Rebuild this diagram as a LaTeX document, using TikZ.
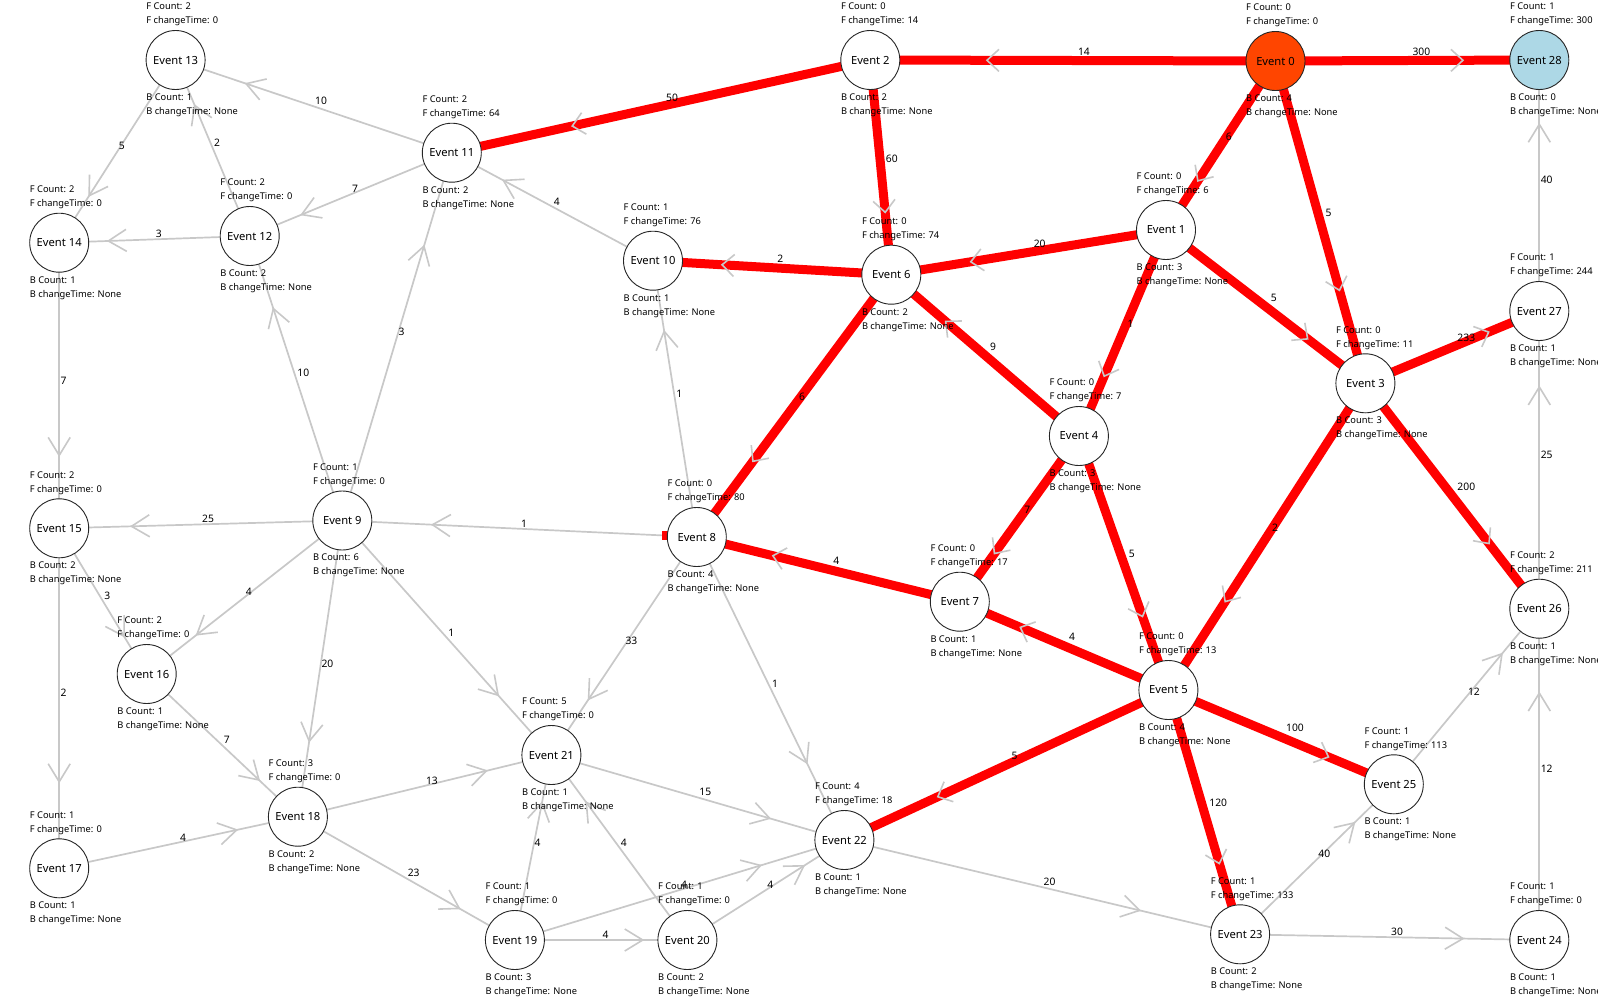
\documentclass[tikz,border=0pt]{standalone}
\usepackage{fontspec}
\setmainfont{Noto Sans}
\usetikzlibrary{arrows.meta,calc,decorations.markings}
\definecolor{linkgray}{HTML}{C8C8C8}
\definecolor{hotred}{HTML}{FF0000}
\definecolor{startfill}{HTML}{FF4500}
\definecolor{endfill}{HTML}{ADD8E6}
\pgfdeclarelayer{bg}
\pgfdeclarelayer{links}
\pgfsetlayers{bg,links,main}
\tikzset{event/.style={draw=black!85,line width=0.9pt,circle,minimum size=59pt,inner sep=0pt,font=\fontsize{11.2}{13}\selectfont}}
\tikzset{info/.style={inner sep=0pt,align=left,font=\fontsize{9.3}{14}\selectfont}}
\tikzset{weight/.style={anchor=south west,inner sep=0.6pt,font=\fontsize{10.3}{12}\selectfont}}
\tikzset{link/.style={draw=linkgray,line width=1.7pt,postaction={decorate},
    decoration={markings,mark=at position 0.75 with {\arrow[linkgray,line width=1.6pt]{Straight Barb[length=18pt,width=22pt,line width=1.6pt]}}}}}
\tikzset{hotlink/.style={draw=hotred,line width=9pt,postaction={decorate},
    decoration={markings,mark=at position 0.715 with {\arrow[linkgray,line width=1.6pt]{Straight Barb[length=12pt,width=22pt,line width=1.6pt]}}}}}
\newcommand{\eventnode}[8][white]{%
    \node [event,fill=#1] (#2) at (#3) {#4};
    \node [info,anchor=south west] (#2f) at ($(#2.center)+(-29.5,-33.8)$) {F Count: #5\\F changeTime: #6};
    \node [info,anchor=north west] (#2b) at ($(#2.center)+(-29.5,33.4)$) {B Count: #7\\B changeTime: #8};
}

\begin{document}
\begin{tikzpicture}[x=1pt,y=-1pt]
    \begin{pgfonlayer}{bg}
        \fill [white] (0,0) rectangle (1598,999);
    \end{pgfonlayer}
    \useasboundingbox (0,0) rectangle (1598,999);
    % events
    \eventnode[startfill]{e0}{1275.5,61}{Event 0}{0}{0}{4}{None}
    \eventnode{e1}{1166,230}{Event 1}{0}{6}{3}{None}
    \eventnode{e2}{870.3,60}{Event 2}{0}{14}{2}{None}
    \eventnode{e3}{1365.4,383.3}{Event 3}{0}{11}{3}{None}
    \eventnode{e4}{1078.9,436}{Event 4}{0}{7}{3}{None}
    \eventnode{e5}{1168.4,690}{Event 5}{0}{13}{4}{None}
    \eventnode{e6}{891.3,274.7}{Event 6}{0}{74}{2}{None}
    \eventnode{e7}{959.8,601.7}{Event 7}{0}{17}{1}{None}
    \eventnode{e8}{696.8,537}{Event 8}{0}{80}{4}{None}
    \eventnode{e9}{342.3,520.5}{Event 9}{1}{0}{6}{None}
    \eventnode{e10}{653,260.7}{Event 10}{1}{76}{1}{None}
    \eventnode{e11}{451.8,152.7}{Event 11}{2}{64}{2}{None}
    \eventnode{e12}{249.7,236}{Event 12}{2}{0}{2}{None}
    \eventnode{e13}{175.6,60}{Event 13}{2}{0}{1}{None}
    \eventnode{e14}{59.2,242.7}{Event 14}{2}{0}{1}{None}
    \eventnode{e15}{59.2,528.3}{Event 15}{2}{0}{2}{None}
    \eventnode{e16}{146.7,674}{Event 16}{2}{0}{1}{None}
    \eventnode{e17}{59.2,868.3}{Event 17}{1}{0}{1}{None}
    \eventnode{e18}{297.9,816.7}{Event 18}{3}{0}{2}{None}
    \eventnode{e19}{514.9,940}{Event 19}{1}{0}{3}{None}
    \eventnode{e20}{687.4,940}{Event 20}{1}{0}{2}{None}
    \eventnode{e21}{551.4,755}{Event 21}{5}{0}{1}{None}
    \eventnode{e22}{844.4,840}{Event 22}{4}{18}{1}{None}
    \eventnode{e23}{1240.1,934.3}{Event 23}{1}{133}{2}{None}
    \eventnode{e24}{1539.3,940}{Event 24}{1}{0}{1}{None}
    \eventnode{e25}{1393.8,784.3}{Event 25}{1}{113}{1}{None}
    \eventnode{e26}{1539.3,608.7}{Event 26}{2}{211}{1}{None}
    \eventnode{e27}{1539.3,311}{Event 27}{1}{244}{1}{None}
    \eventnode[endfill]{e28}{1539.3,60}{Event 28}{1}{300}{0}{None}
    % connectors
    \begin{pgfonlayer}{links}
        \draw [link] (e11.center) -- node [weight] {10} (e13.center);
        \draw [link] (e13.center) -- node [weight] {5} (e14.center);
        \draw [link] (e12.center) -- node [weight] {2} (e13.center);
        \draw [link] (e11.center) -- node [weight] {7} (e12.center);
        \draw [link] (e12.center) -- node [weight] {3} (e14.center);
        \draw [link] (e10.center) -- node [weight] {4} (e11.center);
        \draw [link] (e9.center) -- node [weight] {3} (e11.center);
        \draw [link] (e9.center) -- node [weight] {10} (e12.center);
        \draw [link] (e14.center) -- node [weight] {7} (e15.center);
        \draw [link] (e9.center) -- node [weight] {25} (e15.center);
        \draw [link] (e8.center) -- node [weight] {1} (e9.center);
        \draw [link] (e8.center) -- node [weight] {1} (e10.center);
        \draw [link] (e15.center) -- node [weight] {3} (e16.center);
        \draw [link] (e9.center) -- node [weight] {4} (e16.center);
        \draw [link] (e9.center) -- node [weight] {20} (e18.center);
        \draw [link] (e9.center) -- node [weight] {1} (e21.center);
        \draw [link] (e15.center) -- node [weight] {2} (e17.center);
        \draw [link] (e16.center) -- node [weight] {7} (e18.center);
        \draw [link] (e17.center) -- node [weight] {4} (e18.center);
        \draw [link] (e18.center) -- node [weight] {13} (e21.center);
        \draw [link] (e18.center) -- node [weight] {23} (e19.center);
        \draw [link] (e8.center) -- node [weight] {33} (e21.center);
        \draw [link] (e8.center) -- node [weight] {1} (e22.center);
        \draw [link] (e21.center) -- node [weight] {15} (e22.center);
        \draw [link] (e19.center) -- node [weight] {4} (e21.center);
        \draw [link] (e20.center) -- node [weight] {4} (e21.center);
        \draw [link] (e19.center) -- node [weight] {4} (e22.center);
        \draw [link] (e19.center) -- node [weight] {4} (e20.center);
        \draw [link] (e20.center) -- node [weight] {4} (e22.center);
        \draw [link] (e22.center) -- node [weight] {20} (e23.center);
        \draw [link] (e23.center) -- node [weight] {40} (e25.center);
        \draw [link] (e23.center) -- node [weight] {30} (e24.center);
        \draw [link] (e25.center) -- node [weight] {12} (e26.center);
        \draw [link] (e24.center) -- node [weight] {12} (e26.center);
        \draw [link] (e26.center) -- node [weight] {25} (e27.center);
        \draw [link] (e27.center) -- node [weight] {40} (e28.center);
        % highlighted path
        \draw [hotlink] (e0.center) -- node [weight] {14} (e2.center);
        \draw [hotlink] (e0.center) -- node [weight] {300} (e28.center);
        \draw [hotlink] (e0.center) -- node [weight] {6} (e1.center);
        \draw [hotlink] (e0.center) -- node [weight] {5} (e3.center);
        \draw [hotlink] (e2.center) -- node [weight] {50} (e11.center);
        \draw [hotlink] (e2.center) -- node [weight] {60} (e6.center);
        \draw [hotlink] (e6.center) -- node [weight] {2} (e10.center);
        \draw [hotlink] (e1.center) -- node [weight] {20} (e6.center);
        \draw [hotlink] (e1.center) -- node [weight] {1} (e4.center);
        \draw [hotlink] (e1.center) -- node [weight] {5} (e3.center);
        \draw [hotlink] (e4.center) -- node [weight] {9} (e6.center);
        \draw [hotlink] (e6.center) -- node [weight] {6} (e8.center);
        \draw [hotlink] (e4.center) -- node [weight] {7} (e7.center);
        \draw [hotlink] (e4.center) -- node [weight] {5} (e5.center);
        \draw [hotlink] (e3.center) -- node [weight] {2} (e5.center);
        \draw [hotlink] (e3.center) -- node [weight] {233} (e27.center);
        \draw [hotlink] (e3.center) -- node [weight] {200} (e26.center);
        \draw [hotlink] (e7.center) -- node [weight] {4} (e8.center);
        \draw [hotlink] (e5.center) -- node [weight] {4} (e7.center);
        \draw [hotlink] (e5.center) -- node [weight] {5} (e22.center);
        \draw [hotlink] (e5.center) -- node [weight] {100} (e25.center);
        \draw [hotlink] (e5.center) -- node [weight] {120} (e23.center);
        \fill [hotred] ($(e8.west)+(-4.5,-6.5)$) rectangle ($(e8.west)+(1,2.5)$);
    \end{pgfonlayer}
\end{tikzpicture}
\end{document}
